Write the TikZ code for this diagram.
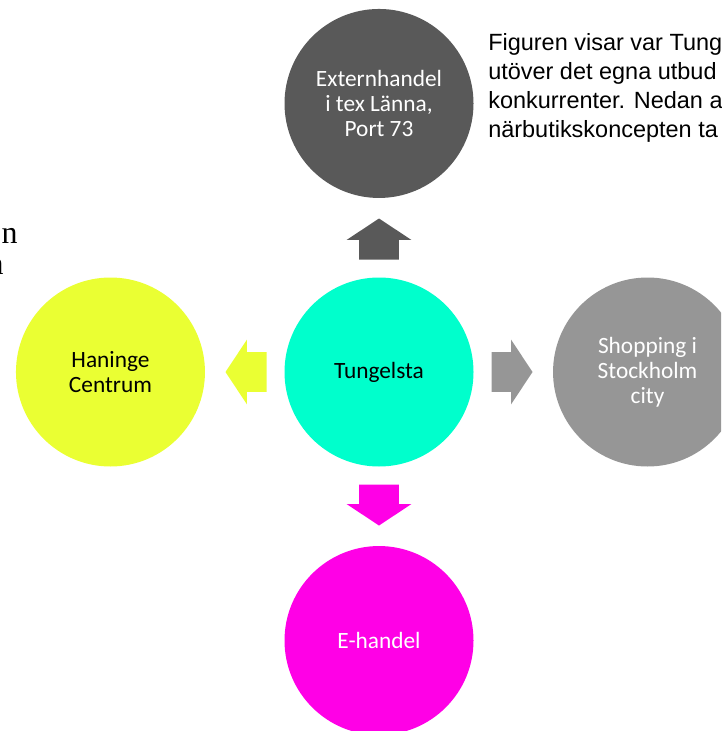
\documentclass[tikz,border=0pt]{standalone}
\usepackage{fontspec}
\usepackage{xcolor}
\usepackage{tikz}
\usetikzlibrary{positioning,calc,shapes.arrows}
\newfontfamily\smartfont{Carlito}
\newfontfamily\notefont{Liberation Sans}
\newfontfamily\bodyfont{Liberation Serif}
\definecolor{hubaqua}{HTML}{00FFCC}
\definecolor{extgray}{HTML}{595959}
\definecolor{citygray}{HTML}{969696}
\definecolor{haniyellow}{HTML}{EAFF33}
\definecolor{ehmagenta}{HTML}{FF00E6}

\begin{document}
\begin{tikzpicture}[
  x=0.75pt,y=-0.75pt,
  node distance=59.25pt,
  spoke/.style={circle,minimum size=141.75pt,inner sep=0pt,align=center,
    font=\smartfont\fontsize{17.5}{18.75}\selectfont},
  blockarrow/.style={single arrow,anchor=tail,inner xsep=0pt,inner ysep=14.625pt,
    minimum height=30.75pt,minimum width=48pt,
    single arrow head extend=9.375pt,single arrow tip angle=113},
  note/.style={inner sep=0pt,align=left,
    font=\notefont\fontsize{17.6}{21.75}\selectfont}
]
  \useasboundingbox (0,0) rectangle (721,731);
  \clip (0,0) rectangle (721,731);

  % page text behind the diagram
  \node[inner sep=0pt,anchor=base east,font=\bodyfont\fontsize{24}{30}\selectfont]
    (bodyone) at (18,243) {n};
  \node[inner sep=0pt,anchor=base east,font=\bodyfont\fontsize{24}{30}\selectfont]
    (bodytwo) at (4,274) {n};
  \node[note,anchor=north west] (note) at (488,33.3)
    {Figuren visar var Tung\\utöver det egna utbud\\konkurrenter. Nedan a\\närbutikskoncepten ta};

  % circles
  \node[spoke,fill=hubaqua] (hub) at (379,372) {Tungelsta};
  \node[spoke,fill=extgray,text=white,above=of hub] (extern)
    {Externhandel\\i tex Länna,\\Port 73};
  \node[spoke,fill=citygray,text=white,right=of hub] (city)
    {Shopping i\\Stockholm\\city};
  \node[spoke,fill=haniyellow,left=of hub] (haninge) {Haninge\\Centrum};
  \node[spoke,fill=ehmagenta,text=white,below=of hub] (ehandel) {E-handel};

  % arrows out of the hub
  \node[blockarrow,fill=extgray,rotate=90] (toextern)
    at ($(hub.north)!13.1pt!(extern.south)$) {};
  \node[blockarrow,fill=citygray] (tocity)
    at ($(hub.east)!13.1pt!(city.west)$) {};
  \node[blockarrow,fill=haniyellow,rotate=180] (tohaninge)
    at ($(hub.west)!13.1pt!(haninge.east)$) {};
  \node[blockarrow,fill=ehmagenta,rotate=-90] (toehandel)
    at ($(hub.south)!13.1pt!(ehandel.north)$) {};
\end{tikzpicture}
\end{document}
